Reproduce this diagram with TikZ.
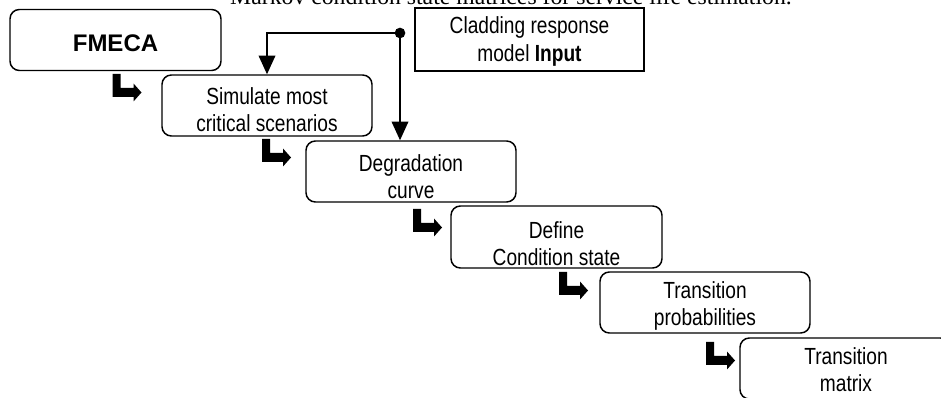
\documentclass[tikz,border=0pt]{standalone}
\usepackage{fontspec}
\setmainfont{Liberation Sans}[FakeStretch=0.82]
\newfontfamily\capfont{Liberation Serif}
\newfontfamily\widefont{Liberation Sans}
\usetikzlibrary{arrows.meta}
\begin{document}
\begin{tikzpicture}[x=0.75pt,y=-0.75pt,
  box/.style={draw, line width=1.1pt, rounded corners=7pt, minimum width=157.5pt, minimum height=45.75pt, inner sep=0pt},
  inbox/.style={draw, line width=1.3pt, minimum width=171.75pt, minimum height=47.25pt, inner sep=0pt},
  lbl/.style={align=center, font=\fontsize{17.5}{20.3}\selectfont, inner sep=0pt},
  captxt/.style={font=\capfont\fontsize{17.8}{20}\selectfont, inner sep=0pt, anchor=base},
  conn/.style={line width=1.1pt, -{Triangle[length=14pt,width=12.5pt]}},
  bent/.pic={\fill (0,0) -- (8,0) -- (8,14) -- (21,14) -- (21,9.5) -- (29,18.5) -- (21,27.5) -- (21,23) -- (0,23) -- cycle;}
]
\useasboundingbox (0,0) rectangle (941,398);
\node[captxt] (cap) at (511,5) {Markov condition state matrices for service life estimation.};

\node[box, minimum width=158.25pt] (fmeca) at (115.5,40) {};
\node[box] (sim) at (267,105.5) {};
\node[box] (deg) at (411,171.5) {};
\node[box, minimum width=158.25pt, minimum height=46.5pt] (def) at (556.5,237) {};
\node[box] (prob) at (705,302.5) {};
\node[box] (mat) at (845,368.5) {};
\node[inbox] (clad) at (529.5,39.5) {};

\node[lbl, font=\widefont\bfseries\fontsize{18}{20}\selectfont] (tfmeca) at (115.5,43) {FMECA};
\node[lbl] (tsim) at (267,110) {Simulate most\\critical scenarios};
\node[lbl] (tdeg) at (411,177) {Degradation\\curve};
\node[lbl] (tdef) at (556.5,243.5) {Define\\Condition state};
\node[lbl] (tprob) at (705,306) {Transition\\probabilities};
\node[lbl] (tmat) at (846,370) {Transition\\matrix};
\node[lbl] (tclad) at (529.5,41.5) {Cladding response\\model \textbf{Input}};

\coordinate (J) at (400,33);
\draw[conn] (J) -| (sim.north);
\draw[conn] (J) -- (J |- deg.north);
\fill (J) circle (4pt);

\pic (b1) at (112.5,74) {bent};
\pic (b2) at (262,139) {bent};
\pic (b3) at (413,209) {bent};
\pic (b4) at (559,272) {bent};
\pic (b5) at (706,342) {bent};
\end{tikzpicture}
\end{document}
